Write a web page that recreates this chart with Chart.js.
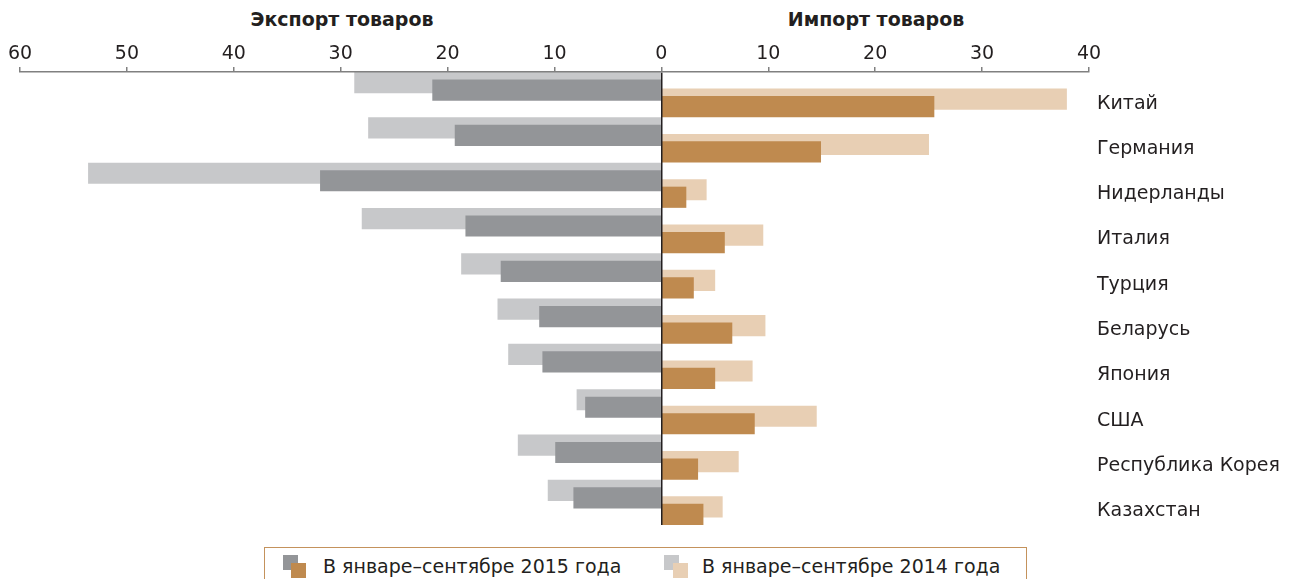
<!DOCTYPE html>
<html lang="ru">
<head>
    <meta charset="UTF-8">
    <title>Экспорт и импорт товаров по странам</title>
    <script src="https://cdn.jsdelivr.net/npm/chart.js"></script>
    <style>
        body {
            margin: 0;
            width: 1294px;
            height: 579px;
            overflow: hidden;
            background: #fff;
            font-family: "DejaVu Sans", sans-serif;
            color: #231f20;
        }

        .page {
            position: relative;
            width: 1294px;
            height: 579px;
        }

        .chart-box {
            position: absolute;
            left: 0;
            top: 0;
            width: 1294px;
            height: 525px;
        }

        .heading {
            position: absolute;
            top: 8px;
            font-weight: bold;
            font-size: 19px;
            transform: translateX(-50%);
            white-space: nowrap;
        }

        .legend {
            position: absolute;
            left: 264px;
            top: 547px;
            width: 761px;
            height: 50px;
            border: 1.5px solid #c4925c;
        }

        .legend .item {
            position: absolute;
            top: 7px;
            font-size: 19px;
            white-space: nowrap;
        }

        .legend .sq {
            position: absolute;
            width: 15px;
            height: 15px;
        }
    </style>
</head>
<body>
<div class="page">
    <div class="heading" style="left: 342px;">Экспорт товаров</div>
    <div class="heading" style="left: 876px;">Импорт товаров</div>

    <div class="chart-box">
        <canvas id="tradeChart"></canvas>
    </div>

    <div class="legend">
        <div class="sq" style="left: 18px; top: 7px; background: #939598;"></div>
        <div class="sq" style="left: 26px; top: 15px; background: #bf8a4f;"></div>
        <div class="item" style="left: 58px;">В январе–сентябре 2015 года</div>

        <div class="sq" style="left: 399px; top: 7px; background: #c7c8ca;"></div>
        <div class="sq" style="left: 408px; top: 15px; background: #e8cfb4;"></div>
        <div class="item" style="left: 437px;">В январе–сентябре 2014 года</div>
    </div>
</div>

<script>
    // countries, top to bottom
    const countries = ['Китай', 'Германия', 'Нидерланды', 'Италия', 'Турция',
        'Беларусь', 'Япония', 'США', 'Республика Корея', 'Казахстан'];

    // export, bn USD (drawn to the left)
    const export2015 = [21.4, 19.3, 31.9, 18.3, 15.0, 11.4, 11.1, 7.1, 9.9, 8.2];
    const export2014 = [28.7, 27.4, 53.6, 28.0, 18.7, 15.3, 14.3, 7.9, 13.4, 10.6];

    // import, bn USD (drawn to the right)
    const import2015 = [25.5, 14.9, 2.3, 5.9, 3.0, 6.6, 5.0, 8.7, 3.4, 3.9];
    const import2014 = [37.9, 25.0, 4.2, 9.5, 5.0, 9.7, 8.5, 14.5, 7.2, 5.7];

    const xTicks = [-60, -50, -40, -30, -20, -10, 0, 10, 20, 30, 40];

    const darkGray = '#939598';
    const lightGray = '#c7c8ca';
    const darkTan = '#bf8a4f';
    const lightTan = '#e8cfb4';
    const font = { family: '"DejaVu Sans", sans-serif', size: 19 };

    // each series sits on its own hidden index axis, shifted by a part of a row,
    // so the four bars of a country step down and overlap like in the print
    const n = countries.length;
    const rowAxis = shift => ({
        type: 'linear', display: false, reverse: true, offset: false,
        min: -0.5 - shift, max: n - 0.5 - shift
    });
    const toPoints = (arr, sign) => arr.map((v, i) => ({ x: sign * v, y: i }));

    const ctx = document.getElementById('tradeChart').getContext('2d');
    new Chart(ctx, {
        type: 'bar',
        data: {
            labels: countries,
            // dark bars first so they are painted over the light ones
            datasets: [
                { label: 'Экспорт 2015', data: toPoints(export2015, -1), backgroundColor: darkGray, yAxisID: 'yED' },
                { label: 'Импорт 2015', data: toPoints(import2015, 1), backgroundColor: darkTan, yAxisID: 'yID' },
                { label: 'Экспорт 2014', data: toPoints(export2014, -1), backgroundColor: lightGray, yAxisID: 'yEL' },
                { label: 'Импорт 2014', data: toPoints(import2014, 1), backgroundColor: lightTan, yAxisID: 'yIL' }
            ]
        },
        options: {
            indexAxis: 'y',
            responsive: true,
            maintainAspectRatio: false,
            animation: false,
            layout: { padding: { left: 20, right: 0, top: 0, bottom: 0 } },
            datasets: {
                bar: { grouped: false, barThickness: 20.5, borderWidth: 0 }
            },
            plugins: {
                legend: { display: false },
                tooltip: { enabled: false }
            },
            scales: {
                x: {
                    type: 'linear',
                    position: 'top',
                    min: -60,
                    max: 40,
                    afterBuildTicks: s => { s.ticks = xTicks.map(v => ({ value: v })); },
                    afterFit: s => { s.height = 72; },
                    ticks: {
                        callback: v => Math.abs(v),
                        color: '#231f20',
                        font: font,
                        padding: 2,
                        maxRotation: 0
                    },
                    grid: {
                        z: 1,
                        drawOnChartArea: true,
                        color: c => (c.tick && c.tick.value === 0) ? '#231f20' : 'rgba(0,0,0,0)',
                        lineWidth: 1.5,
                        tickColor: '#808080',
                        tickLength: 5,
                        tickWidth: 1.5
                    },
                    border: { display: true, color: '#808080', width: 1.5, z: 1 }
                },
                // country names on the right
                y: {
                    type: 'category',
                    labels: countries,
                    position: 'right',
                    offset: true,
                    afterFit: s => { s.width = 205; s.paddingTop = 0; s.paddingBottom = 0; },
                    grid: { display: false, drawTicks: false },
                    border: { display: false },
                    ticks: {
                        color: '#231f20',
                        font: font,
                        padding: 8,
                        labelOffset: 9,
                        autoSkip: false
                    }
                },
                yEL: rowAxis(-0.265),
                yED: rowAxis(-0.1),
                yIL: rowAxis(0.1),
                yID: rowAxis(0.265)
            }
        }
    });
</script>
</body>
</html>
